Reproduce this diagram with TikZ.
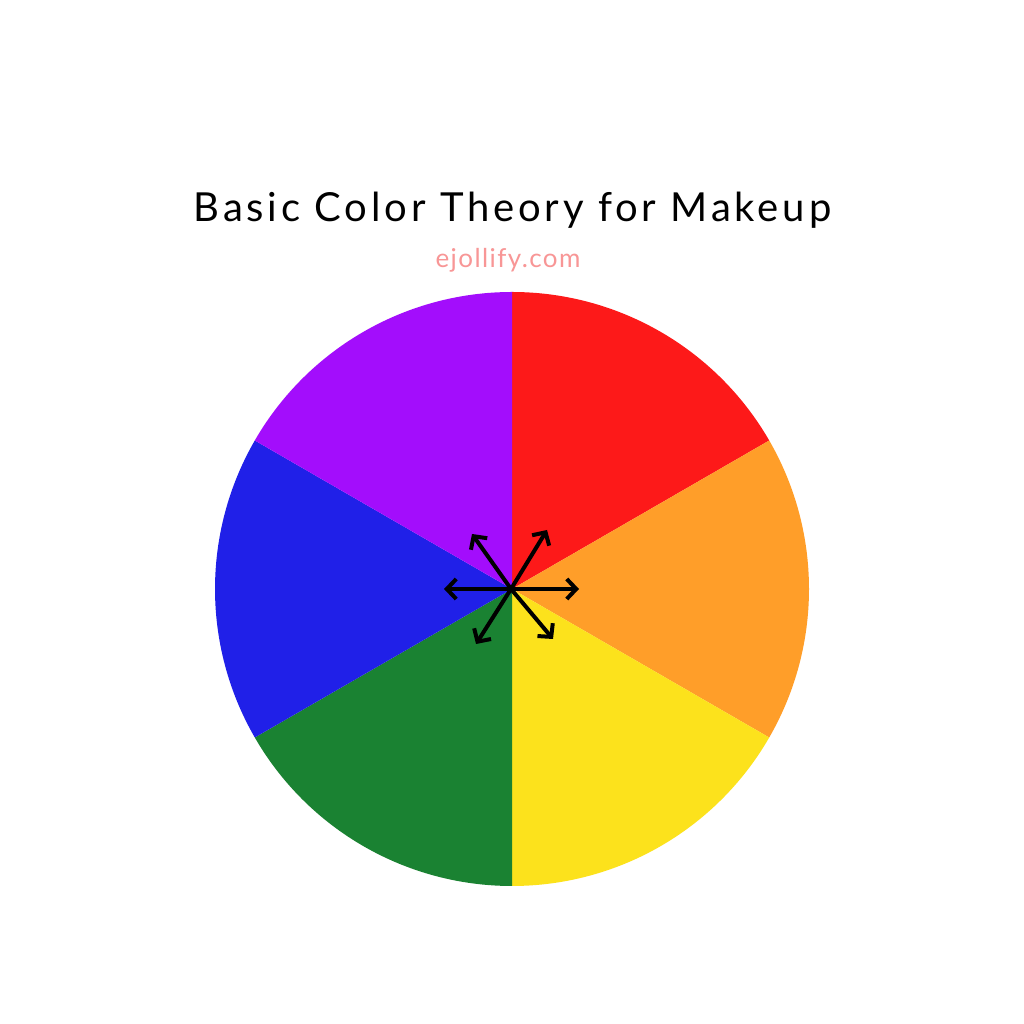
\documentclass[tikz,border=0pt]{standalone}
\usepackage{fontspec}
\setmainfont{Lato}
\newfontfamily\titlefont[LetterSpace=9.7]{Lato}
\newfontfamily\subfont[LetterSpace=5.5]{Lato}
\usetikzlibrary{arrows.meta}
\definecolor{cred}{RGB}{253,25,25}
\definecolor{corange}{RGB}{255,158,41}
\definecolor{cyellow}{RGB}{252,226,28}
\definecolor{cgreen}{RGB}{26,130,50}
\definecolor{cblue}{RGB}{32,32,232}
\definecolor{cpurple}{RGB}{163,13,252}
\definecolor{cpink}{RGB}{248,150,150}
\tikzset{
  ray/.style={line width=4pt, line cap=round, line join=round, -{Straight Barb[length=9.5pt,width=20pt,line width=4pt]}},
}
\begin{document}
\begin{tikzpicture}[x=1pt,y=1pt]
\useasboundingbox (0,0) rectangle (1024,1024);
\fill[white] (0,0) rectangle (1024,1024);
\coordinate (c) at (512,435);
\def\R{297}
\fill[cred]    (c) -- ++(90:\R)  arc[start angle=90,  end angle=30,   radius=\R] -- cycle;
\fill[corange] (c) -- ++(30:\R)  arc[start angle=30,  end angle=-30,  radius=\R] -- cycle;
\fill[cyellow] (c) -- ++(-30:\R) arc[start angle=-30, end angle=-90,  radius=\R] -- cycle;
\fill[cgreen]  (c) -- ++(-90:\R) arc[start angle=-90, end angle=-150, radius=\R] -- cycle;
\fill[cblue]   (c) -- ++(210:\R) arc[start angle=210, end angle=150,  radius=\R] -- cycle;
\fill[cpurple] (c) -- ++(150:\R) arc[start angle=150, end angle=90,   radius=\R] -- cycle;
\node[anchor=base, font=\titlefont\fontsize{40}{48}\selectfont] (title) at (512.5,802) {Basic Color Theory for Makeup};
\node[anchor=base, text=cpink, font=\subfont\fontsize{26}{30}\selectfont] (sub) at (508,756) {ejollify.com};
\coordinate (o) at (511,435);
\coordinate (tE) at (579,435);
\coordinate (tW) at (444,435);
\coordinate (tNE) at (547,494);
\coordinate (tNW) at (472,490);
\coordinate (tSE) at (553,385);
\coordinate (tSW) at (476,380);
\foreach \t in {tE,tW,tNE,tNW,tSE,tSW} \draw[ray] (o) -- (\t);
\end{tikzpicture}
\end{document}
